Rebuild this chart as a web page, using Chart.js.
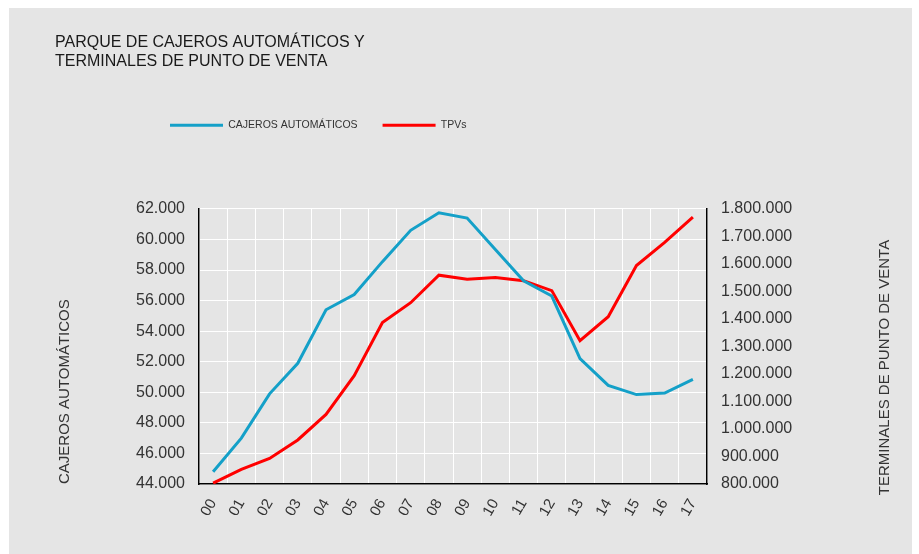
<!DOCTYPE html>
<html>
<head>
<meta charset="utf-8">
<script src="https://cdn.jsdelivr.net/npm/chart.js@4.4.1/dist/chart.umd.min.js"></script>
<style>
body { margin: 0; background: #fff; }
canvas { display: block; }
</style>
</head>
<body>
<canvas id="canvasCajeros" width="919" height="554"></canvas>
<script>

var anios = ['00','01','02','03','04','05','06','07','08','09','10','11','12','13','14','15','16','17'];
var cajeros = [44800, 47000, 49900, 51900, 55400, 56400, 58550, 60600, 61750, 61400, 59350, 57300, 56300, 52200, 50450, 49850, 49950, 50850];
var tpvs = [803000, 853000, 893000, 960000, 1053000, 1194000, 1387000, 1459000, 1559000, 1544000, 1551000, 1539000, 1503000, 1321000, 1408000, 1594000, 1678000, 1770000];

var titulo = ['PARQUE DE CAJEROS AUTOMÁTICOS Y', 'TERMINALES DE PUNTO DE VENTA'];
var tituloIzq = 'CAJEROS AUTOMÁTICOS';
var tituloDer = 'TERMINALES DE PUNTO DE VENTA';

var fuente = '"Liberation Sans", Arial, Helvetica, sans-serif';

function puntos(v){
	return String(v).replace(/\B(?=(\d{3})+(?!\d))/g, '.');
}

// fondo gris del recuadro
var fondo = {
	id: 'fondo',
	beforeDraw: function(chart){
		var ctx = chart.ctx;
		ctx.save();
		ctx.fillStyle = '#e5e5e5';
		ctx.fillRect(9, 8, 903, 546);
		ctx.restore();
	}
};

// la leyenda va mas arriba y a la izquierda que su hueco
var moverLeyenda = {
	id: 'moverLeyenda',
	afterLayout: function(chart){
		var l = chart.legend;
		var w = l.width, h = l.height;
		l.left = 145; l.right = 145 + w;
		l.top = 95; l.bottom = 95 + h;
	}
};

// titulo del eje derecho, descentrado respecto al area
var tituloDerecho = {
	id: 'tituloDerecho',
	afterDraw: function(chart){
		var ctx = chart.ctx;
		ctx.save();
		ctx.translate(885, 367.5);
		ctx.rotate(-Math.PI / 2);
		ctx.font = '15px ' + fuente;
		ctx.fillStyle = '#333';
		ctx.textAlign = 'center';
		ctx.textBaseline = 'middle';
		ctx.fillText(tituloDer, 0, 0);
		ctx.restore();
	}
};

var chart_cajeros = new Chart(document.getElementById('canvasCajeros'), {
	type: 'line',
	data: {
		labels: anios,
		datasets: [{
			label: 'CAJEROS AUTOMÁTICOS',
			data: cajeros,
			yAxisID: 'y',
			borderColor: '#14a0c8',
			backgroundColor: '#14a0c8',
			borderWidth: 3,
			pointRadius: 0,
			tension: 0
		}, {
			label: 'TPVs',
			data: tpvs,
			yAxisID: 'y1',
			borderColor: '#ff0000',
			backgroundColor: '#ff0000',
			borderWidth: 3,
			pointRadius: 0,
			tension: 0
		}]
	},
	options: {
		responsive: false,
		animation: false,
		layout: { padding: { left: 55, right: 0, top: 0, bottom: 0 } },
		plugins: {
			title: {
				display: true,
				text: titulo,
				align: 'start',
				color: '#1a1a1a',
				font: { family: fuente, size: 16, weight: 'normal', lineHeight: 1.2 },
				padding: { top: 33, bottom: 92 }
			},
			legend: {
				display: true,
				position: 'top',
				align: 'start',
				labels: {
					color: '#333',
					font: { family: fuente, size: 10.5 },
					usePointStyle: true,
					pointStyle: 'line',
					pointStyleWidth: 53,
					padding: 25
				}
			},
			tooltip: { enabled: false }
		},
		scales: {
			x: {
				offset: true,
				grid: { color: '#ffffff', lineWidth: 1, offset: true, drawTicks: false },
				border: { display: true, color: '#000', width: 1.5 },
				ticks: {
					color: '#333',
					font: { family: fuente, size: 15 },
					minRotation: 60,
					maxRotation: 60,
					padding: 12
				},
				afterFit: function(scale){ scale.height = 70; }
			},
			y: {
				position: 'left',
				min: 44000,
				max: 62000,
				grid: { color: '#ffffff', lineWidth: 1, drawTicks: false },
				border: { display: true, color: '#000', width: 1.5 },
				ticks: {
					stepSize: 2000,
					color: '#333',
					font: { family: fuente, size: 16 },
					padding: 14,
					callback: function(v){ return puntos(v); }
				},
				title: {
					display: true,
					text: tituloIzq,
					align: 'start',
					color: '#333',
					font: { family: fuente, size: 15 },
					padding: { top: 1, bottom: 0 }
				},
				afterFit: function(scale){ scale.width = 144; }
			},
			y1: {
				position: 'right',
				min: 800000,
				max: 1800000,
				grid: { display: false, drawTicks: false },
				border: { display: true, color: '#000', width: 1.5 },
				ticks: {
					stepSize: 100000,
					color: '#333',
					font: { family: fuente, size: 16 },
					padding: 14,
					callback: function(v){ return puntos(v); }
				},
				afterFit: function(scale){ scale.width = 212; }
			}
		}
	},
	plugins: [fondo, moverLeyenda, tituloDerecho]
});

</script>
</body>
</html>
